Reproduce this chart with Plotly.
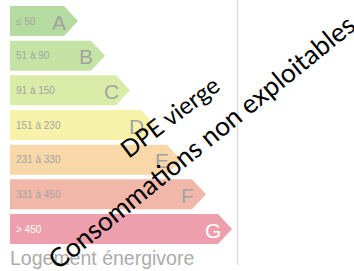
import plotly.graph_objects as go

classes = ["A", "B", "C", "D", "E", "F", "G"]
ranges = ["≤ 50", "51 à 90", "91 à 150", "151 à 230", "231 à 330", "331 à 450", "> 450"]
bar_ends = [64, 91, 116, 141, 167, 192, 218]
colors = ["#b6dba1", "#c4e3a4", "#dbeba8", "#f6f2aa", "#f8d7a8", "#f1b8a9", "#ed9fad"]
label_colors = ["#a3a3a3"] * 6 + ["#ffffff"]
title_bottom = "Logement énergivore"
title_top = "Logement économe"
overlay1 = "DPE vierge"
overlay2 = "Consommations non exploitables"

W, H = 354, 271
x0 = 10
top0 = 6
pitch = 34.67
bh = 30
tip = 14

fig = go.Figure()
for i, (c, r, e, col) in enumerate(zip(classes, ranges, bar_ends, colors)):
    t = top0 + i * pitch
    b = t + bh
    m = (t + b) / 2
    fig.add_trace(go.Scatter(
        x=[x0, e, e + tip, e, x0, x0], y=[t, t, m, b, b, t],
        fill="toself", fillcolor=col, mode="lines", line=dict(width=0),
        hoverinfo="skip", showlegend=False))
    fig.add_annotation(x=x0 + 4, y=m, text=r, showarrow=False, xanchor="left", yanchor="middle",
                       font=dict(family="Liberation Sans, Arial", size=10, color=label_colors[i]))
    fig.add_annotation(x=e - 5, y=m + 1, text=c, showarrow=False, xanchor="center", yanchor="middle",
                       font=dict(family="Liberation Sans, Arial", size=21, color=label_colors[i]))

fig.add_annotation(x=x0 - 2, y=258, text=title_bottom, showarrow=False, xanchor="left", yanchor="middle",
                   font=dict(family="Liberation Sans, Arial", size=19.5, color="#ababab"))
fig.add_annotation(x=0, y=0, xshift=-6, yshift=-1.5, text=title_top, showarrow=False,
                   xanchor="left", yanchor="bottom",
                   font=dict(family="Liberation Sans, Arial", size=19.5, color="#ababab"))
fig.add_annotation(x=240, y=0, yshift=-1.5, text=title_top, showarrow=False,
                   xanchor="left", yanchor="bottom",
                   font=dict(family="Liberation Sans, Arial", size=19.5, color="#ababab"))

fig.add_shape(type="line", x0=237.5, x1=237.5, y0=0, y1=265, line=dict(color="#dedede", width=1.5))

fig.add_annotation(x=169, y=116, text=overlay1, showarrow=False, textangle=-37,
                   font=dict(family="Lato", size=24, color="#000000"))
fig.add_annotation(x=201, y=142, text=overlay2, showarrow=False, textangle=-39,
                   font=dict(family="Lato", size=26.5, color="#000000"))

fig.update_layout(
    width=W, height=H, margin=dict(l=0, r=0, t=0, b=0),
    paper_bgcolor="white", plot_bgcolor="white",
    xaxis=dict(range=[0, W], visible=False, fixedrange=True),
    yaxis=dict(range=[H, 0], visible=False, fixedrange=True),
)
fig.write_html("out.html", config={"displayModeBar": False},
               post_script="document.body.style.margin='0';document.body.style.overflow='hidden';")
